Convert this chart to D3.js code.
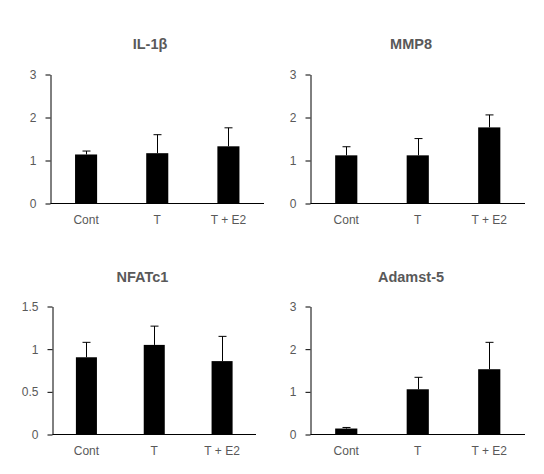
<!DOCTYPE html>
<html><head><meta charset="utf-8">
<script src="https://cdn.jsdelivr.net/npm/d3@7"></script>
<style>body{margin:0;background:#fff}svg{display:block}</style>
</head><body>
<script>
const categories = ["Cont", "T", "T + E2"];
const titles = ["IL-1β", "MMP8", "NFATc1", "Adamst-5"];
const il1bMean = [1.14, 1.17, 1.33];
const il1bErr  = [0.08, 0.43, 0.43];
const mmp8Mean = [1.12, 1.12, 1.77];
const mmp8Err  = [0.20, 0.39, 0.29];
const nfatMean = [0.905, 1.05, 0.86];
const nfatErr  = [0.175, 0.22, 0.29];
const adamMean = [0.14, 1.06, 1.53];
const adamErr  = [0.025, 0.28, 0.63];
const ticks3 = [0, 1, 2, 3];
const ticks15 = [0, 0.5, 1, 1.5];

const panels = [
  {title: titles[0], mean: il1bMean, err: il1bErr, max: 3, ticks: ticks3, x0: 50.5, x1: 264, yT: 74.5, yB: 203.5, tx: 150, ty: 49},
  {title: titles[1], mean: mmp8Mean, err: mmp8Err, max: 3, ticks: ticks3, x0: 310.5, x1: 525, yT: 74.5, yB: 203.5, tx: 411, ty: 49},
  {title: titles[2], mean: nfatMean, err: nfatErr, max: 1.5, ticks: ticks15, x0: 52.5, x1: 256, yT: 306.5, yB: 434.5, tx: 142.5, ty: 282},
  {title: titles[3], mean: adamMean, err: adamErr, max: 3, ticks: ticks3, x0: 310.5, x1: 525, yT: 306.5, yB: 434.5, tx: 411, ty: 282}
];

const svg = d3.select("body").append("svg").attr("width", 544).attr("height", 474);
const font = "'Liberation Sans', Arial, sans-serif";
const grey = "#595959";

panels.forEach(p => {
  const g = svg.append("g");
  const x = d3.scaleBand().domain(categories).range([p.x0, p.x1]).paddingInner(0.69).paddingOuter(0.345);
  const y = d3.scaleLinear().domain([0, p.max]).range([p.yB, p.yT]);

  g.append("text").attr("x", p.tx).attr("y", p.ty).attr("text-anchor", "middle")
    .attr("font-family", font).attr("font-size", 14.5).attr("font-weight", "bold")
    .attr("fill", grey).text(p.title);

  // bars
  g.selectAll("rect.bar").data(categories).enter().append("rect")
    .attr("x", d => x(d)).attr("width", x.bandwidth())
    .attr("y", (d, i) => y(p.mean[i])).attr("height", (d, i) => y(0) - y(p.mean[i]))
    .attr("fill", "#000");

  // error bars (upper only)
  categories.forEach((c, i) => {
    const cx = Math.round(x(c) + x.bandwidth() / 2) + 0.5;
    const top = y(p.mean[i] + p.err[i]);
    g.append("line").attr("x1", cx).attr("x2", cx).attr("y1", y(p.mean[i])).attr("y2", top)
      .attr("stroke", "#000").attr("stroke-width", 1);
    g.append("line").attr("x1", cx - 4).attr("x2", cx + 4).attr("y1", top).attr("y2", top)
      .attr("stroke", "#000").attr("stroke-width", 1);
  });

  // y axis
  const ya = g.append("g").attr("transform", `translate(${p.x0},0)`)
    .call(d3.axisLeft(y).tickValues(p.ticks).tickSize(5).tickSizeOuter(0).tickPadding(9)
      .tickFormat(d => String(d)));
  ya.select(".domain").attr("stroke", "#000");
  ya.selectAll(".tick line").attr("stroke", "#000");
  ya.selectAll("text").attr("font-family", font).attr("font-size", 12).attr("fill", grey);

  // x axis
  const xa = g.append("g").attr("transform", `translate(0,${p.yB})`)
    .call(d3.axisBottom(x).tickSize(0).tickSizeOuter(0).tickPadding(12));
  xa.select(".domain").attr("stroke", "#000").attr("d", `M${p.x0},0H${p.x1}`);
  xa.selectAll("text").attr("font-family", font).attr("font-size", 12).attr("fill", grey);
});
</script>
</body></html>
